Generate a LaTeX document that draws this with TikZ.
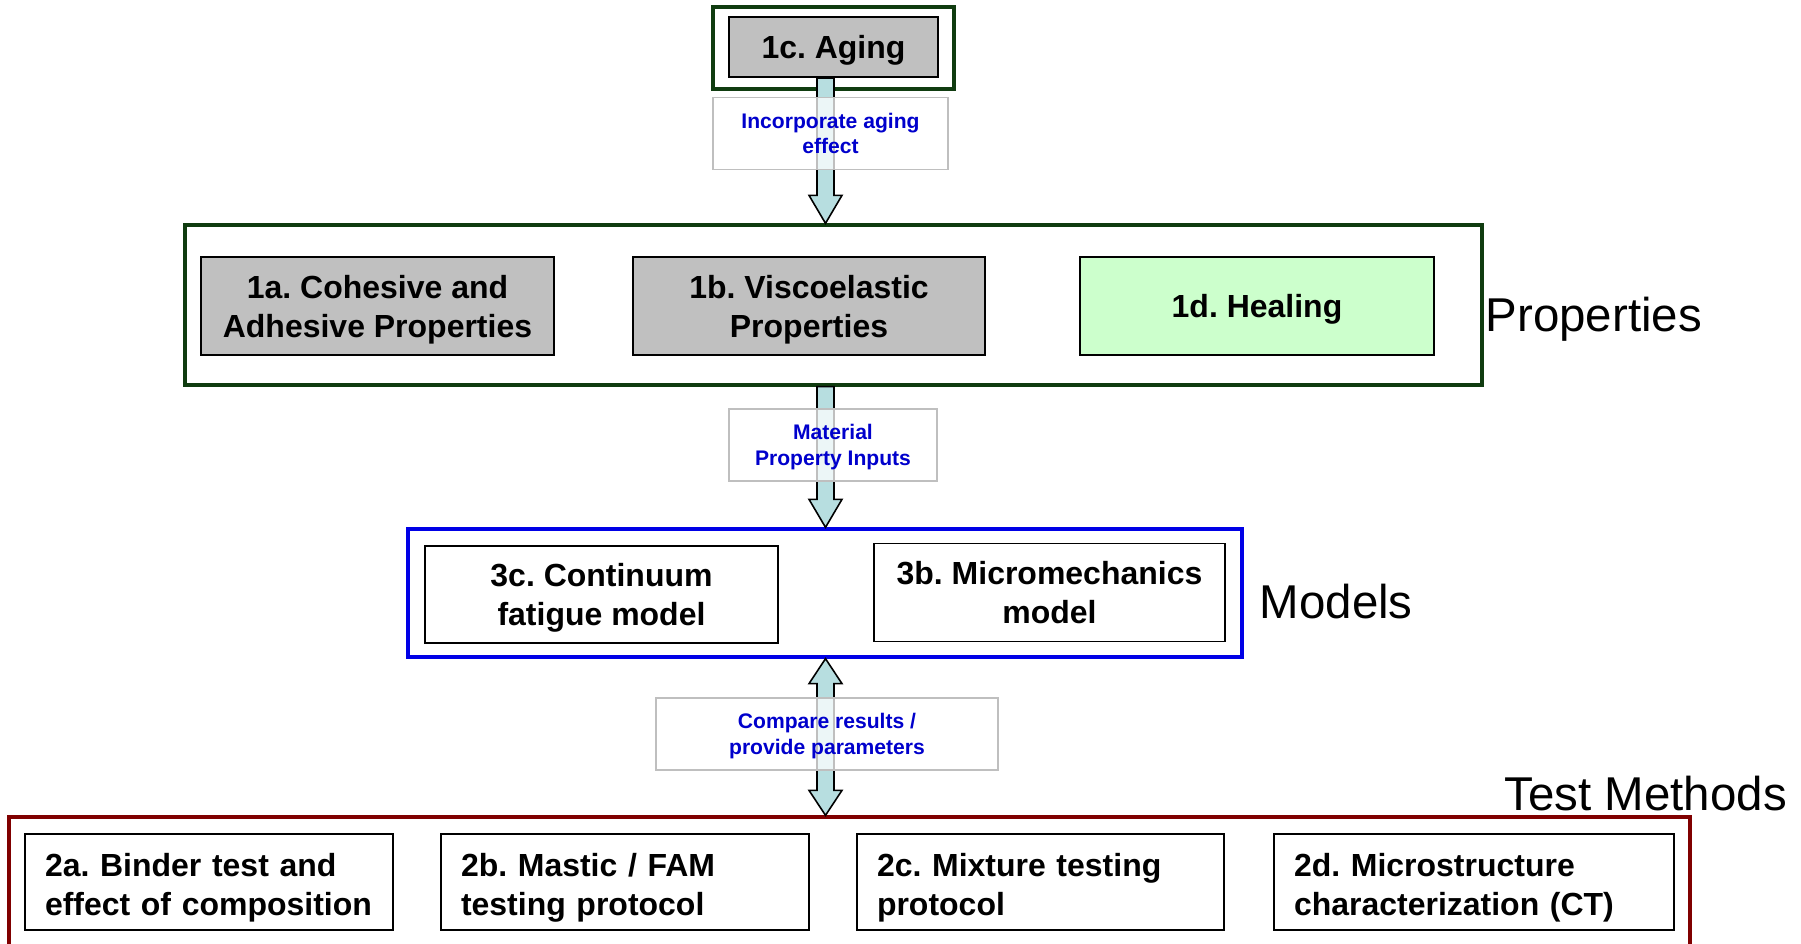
\documentclass[tikz,border=0pt]{standalone}
\usepackage{fontspec}
\setmainfont{Liberation Sans}
\usetikzlibrary{calc}
\frenchspacing

\definecolor{boxgray}{RGB}{192,192,192}
\definecolor{healgreen}{RGB}{204,255,204}
\definecolor{propgreen}{RGB}{16,60,16}
\definecolor{modelblue}{RGB}{0,0,230}
\definecolor{testred}{RGB}{128,0,0}
\definecolor{tagblue}{RGB}{0,0,204}
\definecolor{pipeblue}{RGB}{183,222,224}

\tikzset{
  frame/.style={draw, line width=0.95pt},
  box/.style={draw, line width=0.55pt, minimum height=0.98cm, align=center,
    text depth=0pt, font=\fontsize{9.1}{11.1}\selectfont\bfseries},
  testbox/.style={box, align=left, inner xsep=0.2cm, minimum height=0.96cm,
    text depth=9.8pt},
  tag/.style={draw=black!25, line width=0.5pt, fill=white, fill opacity=0.75,
    text opacity=1, text=tagblue, align=center, minimum height=0.72cm,
    text depth=0pt, font=\fontsize{6}{7.2}\selectfont\bfseries},
  group/.style={font=\fontsize{13.5}{16}\selectfont, inner sep=0pt, anchor=base west},
  pipe/.style={draw, line width=0.45pt, fill=pipeblue, line join=miter}}

\newcommand{\pipedown}[2]{%
  \draw[pipe] let \p1=(#1), \p2=(#2) in
    (\x1-0.085cm,\y1) -- (\x1-0.085cm,\y2+0.28cm) -- (\x1-0.165cm,\y2+0.28cm) --
    (\x1,\y2) -- (\x1+0.165cm,\y2+0.28cm) -- (\x1+0.085cm,\y2+0.28cm) --
    (\x1+0.085cm,\y1) -- cycle;}
\newcommand{\pipeboth}[2]{%
  \draw[pipe] let \p1=(#1), \p2=(#2) in
    (\x1,\y1) -- (\x1+0.165cm,\y1-0.25cm) -- (\x1+0.085cm,\y1-0.25cm) --
    (\x1+0.085cm,\y2+0.25cm) -- (\x1+0.165cm,\y2+0.25cm) -- (\x1,\y2) --
    (\x1-0.165cm,\y2+0.25cm) -- (\x1-0.085cm,\y2+0.25cm) --
    (\x1-0.085cm,\y1-0.25cm) -- (\x1-0.165cm,\y1-0.25cm) -- cycle;}

\begin{document}
\begin{tikzpicture}
    \useasboundingbox (0,0) rectangle (18.01,9.43);
    \clip (0,0) rectangle (18.01,9.43);
    \coordinate (col) at (8.255,0);
    % group frames
    \node[frame, draw=propgreen, minimum width=2.41cm, minimum height=0.82cm] (agingframe) at (8.335,8.95) {};
    \node[frame, draw=propgreen, minimum width=12.97cm, minimum height=1.60cm] (props) at (8.335,6.38) {};
    \node[frame, draw=modelblue, minimum width=8.34cm, minimum height=1.28cm] (models) at (8.25,3.50) {};
    \node[frame, draw=testred, minimum width=16.81cm, minimum height=1.56cm] (tests) at (8.495,0.48) {};
    % properties
    \node[box, fill=boxgray, minimum width=2.09cm, minimum height=0.60cm] (aging) at (8.335,8.96) {1c. Aging};
    \node[box, fill=boxgray, minimum width=3.53cm] (cohesive) at (3.775,6.37) {1a. Cohesive and\\Adhesive Properties};
    \node[box, fill=boxgray, minimum width=3.52cm] (visco) at (8.09,6.37) {1b. Viscoelastic\\Properties};
    \node[box, fill=healgreen, minimum width=3.54cm] (healing) at (12.57,6.37) {1d. Healing};
    % models
    \node[box, minimum width=3.53cm, minimum height=0.97cm] (continuum) at (6.015,3.485) {3c. Continuum\\fatigue model};
    \node[box, minimum width=3.51cm] (micro) at (10.495,3.505) {3b. Micromechanics\\model};
    % test methods
    \node[testbox, text width=3.28cm] (binder) at (2.09,0.61) {2a. Binder test and\\effect of composition};
    \node[testbox, text width=3.28cm] (mastic) at (6.25,0.61) {2b. Mastic / FAM\\testing protocol};
    \node[testbox, text width=3.27cm] (mixture) at (10.405,0.61) {2c. Mixture testing\\protocol};
    \node[testbox, text width=3.60cm] (ct) at (14.74,0.61) {2d. Microstructure\\characterization (CT)};
    % group names
    \node[group] (propsname) at (14.85,6.12) {Properties};
    \node[group] (modelsname) at (12.59,3.25) {Models};
    \node[group] (testsname) at (15.04,1.33) {Test Methods};
    % arrows
    \coordinate (p1) at (aging.south -| col);
    \coordinate (p2) at (props.north -| col);
    \pipedown{p1}{p2};
    \coordinate (p3) at (props.south -| col);
    \coordinate (p4) at (models.north -| col);
    \pipedown{p3}{p4};
    \coordinate (p5) at (models.south -| col);
    \coordinate (p6) at (tests.north -| col);
    \pipeboth{p5}{p6};
    % arrow labels
    \node[tag, minimum width=2.35cm] (agingtag) at (8.305,8.095) {Incorporate aging\\effect};
    \node[tag, minimum width=2.08cm] (inputtag) at (8.33,4.98) {Material\\Property Inputs};
    \node[tag, minimum width=3.42cm] (comparetag) at (8.27,2.09) {Compare results /\\provide parameters};
\end{tikzpicture}
\end{document}
